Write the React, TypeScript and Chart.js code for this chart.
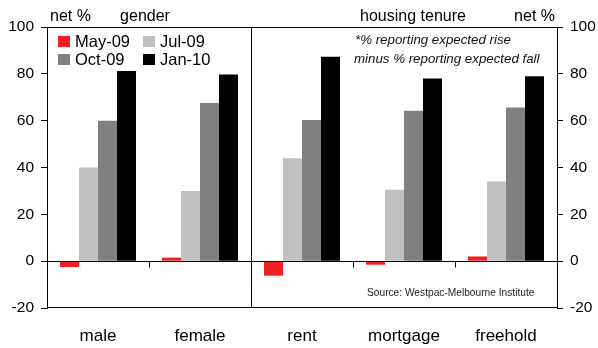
import React, { useEffect, useRef } from "react";
import { Chart, registerables } from "chart.js";

Chart.register(...registerables);

// Consumer expectations for house prices, net % (rise minus fall)
const categories = ["male", "female", "rent", "mortgage", "freehold"];
const may09 = [-2.5, 1.5, -6.2, -1.5, 2];
const jul09 = [40, 30, 44, 30.5, 34];
const oct09 = [60, 67.5, 60.3, 64.2, 65.6];
const jan10 = [81.2, 79.7, 87.3, 78, 79];
const seriesNames = ["May-09", "Jul-09", "Oct-09", "Jan-10"];
const seriesColors = ["#ee2024", "#c0c0c0", "#808080", "#000000"];
const yTicks = { min: -20, max: 100, step: 20 };

const FONT = "'Liberation Sans', Arial, Helvetica, sans-serif";

const decor = {
  id: "decor",
  afterDatasetsDraw(chart: any) {
    const { ctx, chartArea, scales } = chart;
    const x = scales.x;
    const y = scales.y;
    const zero = Math.round(y.getPixelForValue(0)) + 0.5;
    ctx.save();
    ctx.strokeStyle = "#000";
    ctx.lineWidth = 1;
    // frame top/bottom and zero line
    ctx.beginPath();
    ctx.moveTo(chartArea.left, chartArea.top + 0.5);
    ctx.lineTo(chartArea.right, chartArea.top + 0.5);
    ctx.moveTo(chartArea.left, chartArea.bottom - 0.5);
    ctx.lineTo(chartArea.right, chartArea.bottom - 0.5);
    ctx.moveTo(chartArea.left, zero);
    ctx.lineTo(chartArea.right, zero);
    ctx.stroke();
    // category boundaries: divider between gender and tenure groups, small ticks elsewhere
    const bound = (i: number) => Math.round((x.getPixelForValue(i) + x.getPixelForValue(i + 1)) / 2) + 0.5;
    ctx.beginPath();
    [0, 2, 3].forEach((i) => {
      const bx = bound(i);
      ctx.moveTo(bx, zero);
      ctx.lineTo(bx, zero + 6);
    });
    const dx = bound(1);
    ctx.moveTo(dx, chartArea.top);
    ctx.lineTo(dx, chartArea.bottom);
    ctx.stroke();

    // headers
    ctx.fillStyle = "#000";
    ctx.textBaseline = "middle";
    ctx.font = `16px ${FONT}`;
    ctx.textAlign = "left";
    ctx.fillText("net %", 50, 17);
    ctx.textAlign = "center";
    ctx.fillText("gender", 145, 17);
    ctx.fillText("housing tenure", 413, 17);
    ctx.textAlign = "right";
    ctx.fillText("net %", 555, 17);

    // legend
    ctx.font = `16.5px ${FONT}`;
    ctx.textAlign = "left";
    const pos = [
      [58, 42],
      [143, 42],
      [58, 60],
      [143, 60],
    ];
    seriesNames.forEach((name, i) => {
      const [lx, ly] = pos[i];
      ctx.fillStyle = seriesColors[i];
      ctx.fillRect(lx, ly - 6, 12, 11);
      ctx.fillStyle = "#000";
      ctx.fillText(name, lx + 17, ly);
    });

    // note
    ctx.font = `italic 13.3px ${FONT}`;
    ctx.fillStyle = "#111";
    ctx.fillText("*% reporting expected rise", 355, 40);
    ctx.fillText("minus % reporting expected fall", 354, 59);

    // source
    ctx.font = `10.2px ${FONT}`;
    ctx.fillStyle = "#222";
    ctx.fillText("Source: Westpac-Melbourne Institute", 367, 293);
    ctx.restore();
  },
};

export default function App() {
  const ref = useRef<HTMLCanvasElement | null>(null);
  useEffect(() => {
    if (!ref.current) return;
    const values = [may09, jul09, oct09, jan10];
    const axisY = (position: "left" | "right", width: number) => ({
      position,
      min: yTicks.min,
      max: yTicks.max,
      ticks: {
        stepSize: yTicks.step,
        color: "#000",
        font: { family: FONT, size: 15.5 },
        padding: 7,
      },
      grid: { drawOnChartArea: false, tickLength: 6, color: "#000" },
      border: { display: true, color: "#000", width: 1 },
      afterFit: (s: any) => {
        s.width = width;
      },
    });
    const chart = new Chart(ref.current, {
      type: "bar",
      data: {
        labels: categories,
        datasets: seriesNames.map((name, i) => ({
          label: name,
          data: values[i],
          backgroundColor: seriesColors[i],
          borderWidth: 0,
          categoryPercentage: 0.745,
          barPercentage: 1,
          yAxisID: "y",
        })),
      },
      options: {
        animation: false,
        responsive: false,
        maintainAspectRatio: false,
        layout: { padding: { top: 27, left: 0, right: 0, bottom: 0 } },
        plugins: { legend: { display: false }, tooltip: { enabled: false } },
        scales: {
          x: {
            grid: { display: false, drawTicks: false },
            border: { display: false },
            ticks: { color: "#000", font: { family: FONT, size: 17 }, padding: 18 },
            afterFit: (s: any) => {
              s.height = 40;
            },
          },
          y: axisY("left", 47) as any,
          y1: axisY("right", 41) as any,
        },
      },
      plugins: [decor],
    });
    return () => chart.destroy();
  }, []);
  return (
    <canvas
      ref={ref}
      width={598}
      height={348}
      style={{ position: "fixed", left: 0, top: 0, width: 598, height: 348, background: "#fff" }}
    />
  );
}
